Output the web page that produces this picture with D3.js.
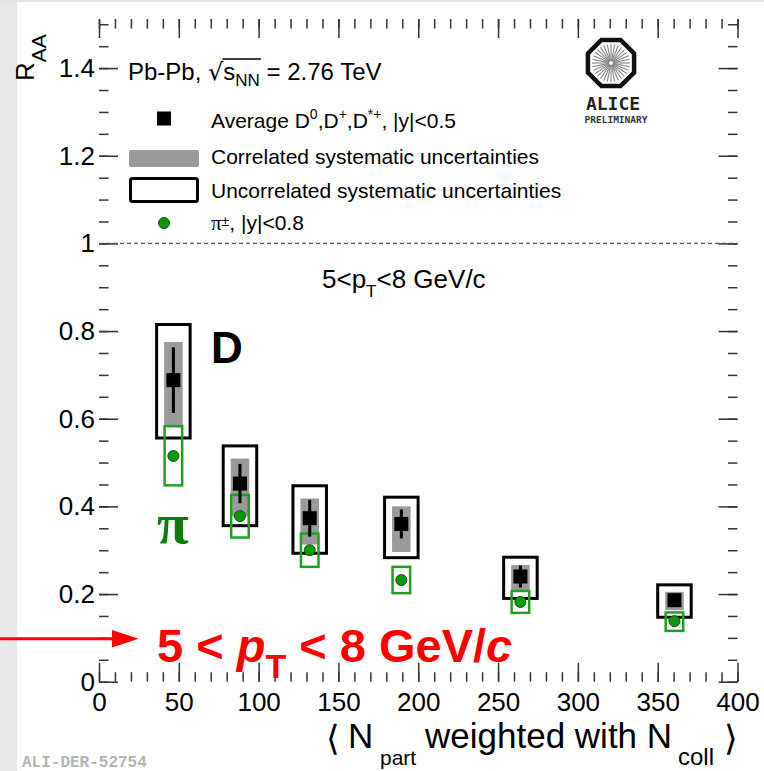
<!DOCTYPE html>
<html><head><meta charset="utf-8">
<script src="https://cdn.jsdelivr.net/npm/d3@7"></script>
<style>body{margin:0;background:#fff} svg{display:block} text{white-space:pre}</style>
</head><body>
<svg id="c" width="764" height="771"></svg>
<script>
// ---- data ----
const nPart = [46.6, 88.3, 132, 189.4, 264, 360.5];
const dRaa = [0.688, 0.452, 0.373, 0.360, 0.240, 0.186];
const dStat = [0.075, 0.045, 0.042, 0.033, 0.025, 0.010];
const dUncorrHigh = [0.815, 0.538, 0.447, 0.421, 0.284, 0.221];
const dUncorrLow = [0.556, 0.356, 0.293, 0.283, 0.190, 0.147];
const dCorrHigh = [0.775, 0.509, 0.418, 0.400, 0.266, 0.205];
const dCorrLow = [0.585, 0.377, 0.313, 0.296, 0.205, 0.163];
const piRaa = [0.515, 0.378, 0.300, 0.232, 0.182, 0.138];
const piSysHigh = [0.583, 0.426, 0.338, 0.262, 0.207, 0.158];
const piSysLow = [0.448, 0.329, 0.262, 0.202, 0.157, 0.116];
const xTickLabels = [0, 50, 100, 150, 200, 250, 300, 350, 400];
const yTickLabels = [0, 0.2, 0.4, 0.6, 0.8, 1, 1.2, 1.4];
const xDomain = [0, 400];
const yDomain = [0, 1.512];

// ---- layout ----
const FONT = "'Liberation Sans', Arial, Helvetica, sans-serif";
const svg = d3.select("#c");
svg.append("rect").attr("width", 764).attr("height", 771).attr("fill", "#fff");
svg.append("rect").attr("x", 0).attr("y", 0).attr("width", 17).attr("height", 771).attr("fill", "#e8e8e8");
svg.append("rect").attr("x", 0).attr("y", 0).attr("width", 764).attr("height", 2).attr("fill", "#e4e4e4");

const L = 99, R = 737.5, T = 19, B = 681.7;
const x = d3.scaleLinear().domain(xDomain).range([L, R]);
const y = d3.scaleLinear().domain(yDomain).range([B, T]);

const xMinor = d3.range(0, 401, 10);
const yMinor = d3.range(0, 31).map(i => i * 0.05);

function styleAxis(g) {
  g.select(".domain").remove();
  g.selectAll("line").attr("stroke", "#333").attr("stroke-width", 1.5);
  g.attr("font-family", FONT).attr("font-size", 26);
  g.selectAll("text").attr("fill", "#000");
  return g;
}
// minor ticks
styleAxis(svg.append("g").attr("transform", `translate(0,${B})`).call(d3.axisBottom(x).tickValues(xMinor).tickSize(-9.5).tickFormat("")));
styleAxis(svg.append("g").attr("transform", `translate(0,${T})`).call(d3.axisTop(x).tickValues(xMinor).tickSize(-9.5).tickFormat("")));
styleAxis(svg.append("g").attr("transform", `translate(${L},0)`).call(d3.axisLeft(y).tickValues(yMinor).tickSize(-9.5).tickFormat("")));
styleAxis(svg.append("g").attr("transform", `translate(${R},0)`).call(d3.axisRight(y).tickValues(yMinor).tickSize(-9.5).tickFormat("")));
// major ticks
styleAxis(svg.append("g").attr("transform", `translate(0,${B})`).call(d3.axisBottom(x).tickValues(xTickLabels).tickSize(-19).tickPadding(11).tickFormat(d => String(d))));
styleAxis(svg.append("g").attr("transform", `translate(0,${T})`).call(d3.axisTop(x).tickValues(xTickLabels).tickSize(-19).tickFormat("")));
styleAxis(svg.append("g").attr("transform", `translate(${L},0)`).call(d3.axisLeft(y).tickValues(yTickLabels).tickSize(-19).tickPadding(4).tickFormat(d => String(d))));
styleAxis(svg.append("g").attr("transform", `translate(${R},0)`).call(d3.axisRight(y).tickValues(yTickLabels).tickSize(-19).tickFormat("")));

// dashed line at 1
svg.append("line").attr("x1", L).attr("x2", R).attr("y1", y(1)).attr("y2", y(1))
  .attr("stroke", "#555").attr("stroke-width", 1.2).attr("stroke-dasharray", "4,3");

// ---- data marks ----
const idx = d3.range(nPart.length);
const UNC_HW = 10.5, COR_HW = 5.8, PI_HW = 5.5;
const g = svg.append("g");
g.selectAll(".unc").data(idx).join("rect")
  .attr("x", i => x(nPart[i] - UNC_HW)).attr("width", i => x(nPart[i] + UNC_HW) - x(nPart[i] - UNC_HW))
  .attr("y", i => y(dUncorrHigh[i])).attr("height", i => y(dUncorrLow[i]) - y(dUncorrHigh[i]))
  .attr("fill", "none").attr("stroke", "#000").attr("stroke-width", 3);
g.selectAll(".cor").data(idx).join("rect")
  .attr("x", i => x(nPart[i] - COR_HW)).attr("width", i => x(nPart[i] + COR_HW) - x(nPart[i] - COR_HW))
  .attr("y", i => y(dCorrHigh[i])).attr("height", i => y(dCorrLow[i]) - y(dCorrHigh[i]))
  .attr("fill", "#9a9a9a");
g.selectAll(".pis").data(idx).join("rect")
  .attr("x", i => x(nPart[i] - PI_HW)).attr("width", i => x(nPart[i] + PI_HW) - x(nPart[i] - PI_HW))
  .attr("y", i => y(piSysHigh[i])).attr("height", i => y(piSysLow[i]) - y(piSysHigh[i]))
  .attr("fill", "none").attr("stroke", "#20a020").attr("stroke-width", 2.5);
g.selectAll(".err").data(idx).join("line")
  .attr("x1", i => x(nPart[i])).attr("x2", i => x(nPart[i]))
  .attr("y1", i => y(dRaa[i] + dStat[i])).attr("y2", i => y(dRaa[i] - dStat[i]))
  .attr("stroke", "#000").attr("stroke-width", 3);
g.selectAll(".mk").data(idx).join("rect")
  .attr("x", i => x(nPart[i]) - 7).attr("y", i => y(dRaa[i]) - 7).attr("width", 14).attr("height", 14)
  .attr("fill", "#000");
g.selectAll(".pd").data(idx).join("circle")
  .attr("cx", i => x(nPart[i])).attr("cy", i => y(piRaa[i])).attr("r", 5.5)
  .attr("fill", "#0c9a0c").attr("stroke", "#045a04").attr("stroke-width", 1);

// ---- texts ----
function txt(xp, yp, s, size, opts = {}) {
  const t = svg.append("text").attr("x", xp).attr("y", yp).attr("font-size", size)
    .attr("font-family", opts.family || FONT).attr("fill", opts.fill || "#000")
    .attr("xml:space", "preserve").text(s);
  if (opts.weight) t.attr("font-weight", opts.weight);
  if (opts.style) t.attr("font-style", opts.style);
  if (opts.anchor) t.attr("text-anchor", opts.anchor);
  return t;
}
// sequence layout helper
function seq(x0, y0, parts) {
  let cx = x0;
  const out = [];
  parts.forEach(p => {
    const t = txt(cx, y0 + (p.dy || 0), p.t, p.size, p);
    const w = t.node().getComputedTextLength();
    out.push({ x: cx, w });
    cx += w + (p.gap || 0);
  });
  return out;
}

// header
const hd = seq(128, 80, [
  { t: "Pb-Pb, ", size: 24 },
  { t: "√", size: 24, family: "'DejaVu Sans', sans-serif" },
  { t: "s", size: 24 },
  { t: "NN", size: 17, dy: 6 },
  { t: " = 2.76 TeV", size: 24 }
]);
svg.append("line").attr("x1", hd[1].x + hd[1].w - 1).attr("x2", hd[3].x + hd[3].w + 1)
  .attr("y1", 59).attr("y2", 59).attr("stroke", "#000").attr("stroke-width", 1.3);

// legend entries
svg.append("rect").attr("x", 157).attr("y", 111.5).attr("width", 14).attr("height", 14).attr("fill", "#000");
seq(211, 128, [
  { t: "Average D", size: 21 }, { t: "0", size: 14, dy: -9 }, { t: ",D", size: 21 }, { t: "+", size: 14, dy: -9 },
  { t: ",D", size: 21 }, { t: "*+", size: 14, dy: -9 }, { t: ", |y|<0.5", size: 21 }
]);
svg.append("rect").attr("x", 129).attr("y", 150).attr("width", 70).attr("height", 17).attr("rx", 2).attr("fill", "#9a9a9a");
txt(211, 164, "Correlated systematic uncertainties", 21);
svg.append("rect").attr("x", 130.5).attr("y", 178.5).attr("width", 67).attr("height", 23).attr("rx", 2)
  .attr("fill", "none").attr("stroke", "#000").attr("stroke-width", 3);
txt(211, 197.5, "Uncorrelated systematic uncertainties", 21);
svg.append("circle").attr("cx", 164).attr("cy", 223).attr("r", 5.5).attr("fill", "#0c9a0c").attr("stroke", "#045a04");
seq(211, 230, [
  { t: "π", size: 21, family: "'Liberation Serif', serif" }, { t: "±", size: 14, dy: -4 }, { t: ", |y|<0.8", size: 21 }
]);

// pT range label in plot
seq(322, 288, [
  { t: "5<p", size: 26 }, { t: "T", size: 17, dy: 9 }, { t: "<8 GeV/c", size: 26 }
]);

// D and pi labels
txt(211, 363, "D", 44, { weight: "bold" });
txt(157, 543, "π", 58, { weight: "bold", family: "'Liberation Serif', serif", fill: "#0b7d0b" });

// ALICE logo
const lc = [611, 63], lr = 25;
const oct = d3.range(8).map(k => {
  const a = (22.5 + 45 * k) * Math.PI / 180;
  return [lc[0] + lr * Math.cos(a), lc[1] + lr * Math.sin(a)];
});
svg.append("polygon").attr("points", oct.map(p => p.join(",")).join(" "))
  .attr("fill", "#fff").attr("stroke", "#111").attr("stroke-width", 4.5);
d3.range(32).forEach(k => {
  const a = k * 11.25 * Math.PI / 180;
  svg.append("line").attr("x1", lc[0] + 2 * Math.cos(a)).attr("y1", lc[1] + 2 * Math.sin(a))
    .attr("x2", lc[0] + 19 * Math.cos(a)).attr("y2", lc[1] + 19 * Math.sin(a))
    .attr("stroke", "#888").attr("stroke-width", 1.1);
});
txt(613, 110, "ALICE", 18, { family: "'DejaVu Sans Mono', monospace", weight: "bold", anchor: "middle", fill: "#222" });
txt(616, 123, "PRELIMINARY", 9.5, { family: "'DejaVu Sans Mono', monospace", weight: "bold", anchor: "middle", fill: "#333" });

// axis titles
const yt = svg.append("text").attr("transform", "translate(34,81) rotate(-90)")
  .attr("font-family", FONT).attr("font-size", 26).attr("fill", "#000");
yt.append("tspan").text("R");
yt.append("tspan").attr("font-size", 21).attr("dy", 12).text("AA");

txt(326, 750, "⟨", 35, { family: "'DejaVu Sans', sans-serif" });
txt(348, 748, "N", 35);
txt(380, 765, "part", 21);
txt(425, 748, "weighted with N", 35);
txt(678, 765, "coll", 24);
txt(724, 750, "⟩", 35, { family: "'DejaVu Sans', sans-serif" });

// red annotation
svg.append("line").attr("x1", 0).attr("x2", 116).attr("y1", 638.7).attr("y2", 638.7)
  .attr("stroke", "#ff0000").attr("stroke-width", 3);
svg.append("polygon").attr("points", "112,630 138.5,638.7 112,647.5").attr("fill", "#ff0000");
seq(157, 662, [
  { t: "5 < ", size: 47, weight: "bold", fill: "#ff0000" },
  { t: "p", size: 47, weight: "bold", style: "italic", fill: "#ff0000" },
  { t: "T", size: 34, weight: "bold", dy: 16, fill: "#ff0000" },
  { t: " < 8 GeV/", size: 47, weight: "bold", fill: "#ff0000" },
  { t: "c", size: 47, weight: "bold", style: "italic", fill: "#ff0000" }
]);

// footer id
txt(22, 767, "ALI-DER-52754", 16, { family: "'Liberation Mono', monospace", weight: "bold", fill: "#b4b4b4" });
</script>
</body></html>
